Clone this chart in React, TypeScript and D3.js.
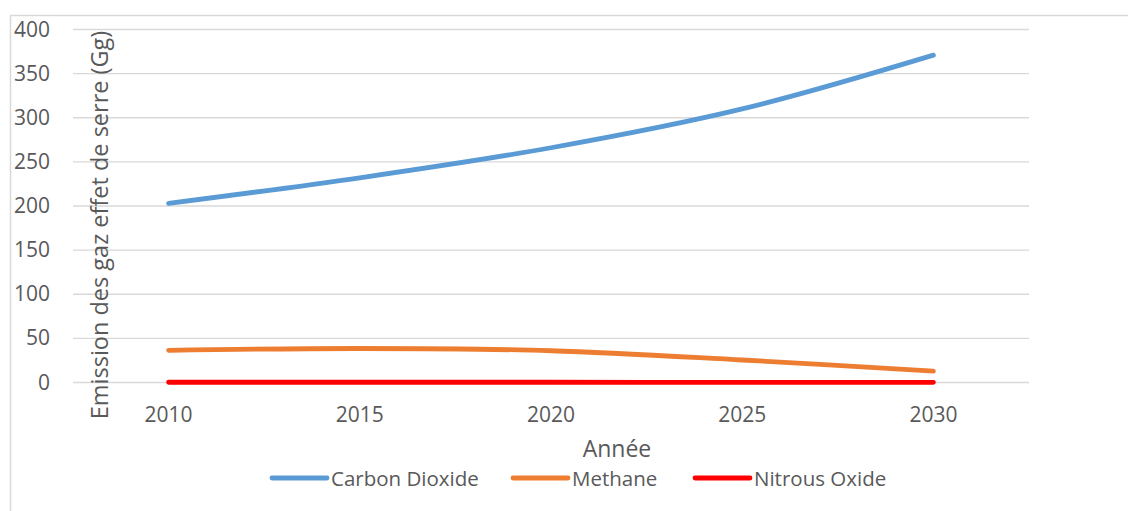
import React from "react";
import * as d3 from "d3";

const years = ["2010", "2015", "2020", "2025", "2030"];
const carbonDioxide = [203, 232, 266, 310, 371];
const methane = [36.5, 38.5, 36, 25.5, 13];
const nitrousOxide = [0.3, 0.3, 0.3, 0.2, 0.2];
const yTicks = [0, 50, 100, 150, 200, 250, 300, 350, 400];
const seriesNames = ["Carbon Dioxide", "Methane", "Nitrous Oxide"];
const seriesColors = ["#5b9bd5", "#ed7d31", "#ff0000"];

const W = 1128;
const H = 511;
const plot = { left: 73, right: 1029, top: 29.5, bottom: 382.5 };
const font = "'Open Sans', 'Noto Sans', sans-serif";
const textColor = "#595959";

export default function App() {
  const x = d3.scaleBand<string>().domain(years).range([plot.left, plot.right]);
  const y = d3.scaleLinear().domain([0, 400]).range([plot.bottom, plot.top]);
  const cx = (yr: string) => (x(yr) as number) + x.bandwidth() / 2;
  const line = d3
    .line<number>()
    .x((_, i) => cx(years[i]))
    .y((v) => y(v))
    .curve(d3.curveCatmullRom.alpha(0.5));
  const series = [carbonDioxide, methane, nitrousOxide];
  const legendX = [272, 513, 695];

  return (
    <svg
      width={W}
      height={H}
      style={{ position: "absolute", left: 0, top: 0, background: "#fff" }}
      fontFamily={font}
    >
      <rect x={10.5} y={15.5} width={W + 10} height={H + 10} fill="#fff" stroke="#d9d9d9" strokeWidth={1.5} />
      {yTicks.map((t) => (
        <g key={t}>
          <line x1={plot.left} x2={plot.right} y1={y(t)} y2={y(t)} stroke="#d9d9d9" strokeWidth={1.3} />
          <text x={50} y={y(t) + 7} textAnchor="end" fontSize={21} fill={textColor}>
            {t}
          </text>
        </g>
      ))}
      {years.map((yr) => (
        <text key={yr} x={cx(yr)} y={422} textAnchor="middle" fontSize={21} fill={textColor}>
          {yr}
        </text>
      ))}
      <text
        transform={`translate(108,225) rotate(-90)`}
        textAnchor="middle"
        fontSize={23.5}
        fill={textColor}
      >
        Emission des gaz effet de serre (Gg)
      </text>
      <text x={617} y={457} textAnchor="middle" fontSize={23} fill={textColor}>
        Année
      </text>
      {series.map((s, i) => (
        <path
          key={seriesNames[i]}
          d={line(s) || ""}
          fill="none"
          stroke={seriesColors[i]}
          strokeWidth={4.8}
          strokeLinecap="round"
          strokeLinejoin="round"
        />
      ))}
      {seriesNames.map((n, i) => (
        <g key={n}>
          <line
            x1={legendX[i]}
            x2={legendX[i] + 55}
            y1={478}
            y2={478}
            stroke={seriesColors[i]}
            strokeWidth={4.8}
            strokeLinecap="round"
          />
          <text x={legendX[i] + 59} y={485.5} fontSize={20.5} fill={textColor}>
            {n}
          </text>
        </g>
      ))}
    </svg>
  );
}
